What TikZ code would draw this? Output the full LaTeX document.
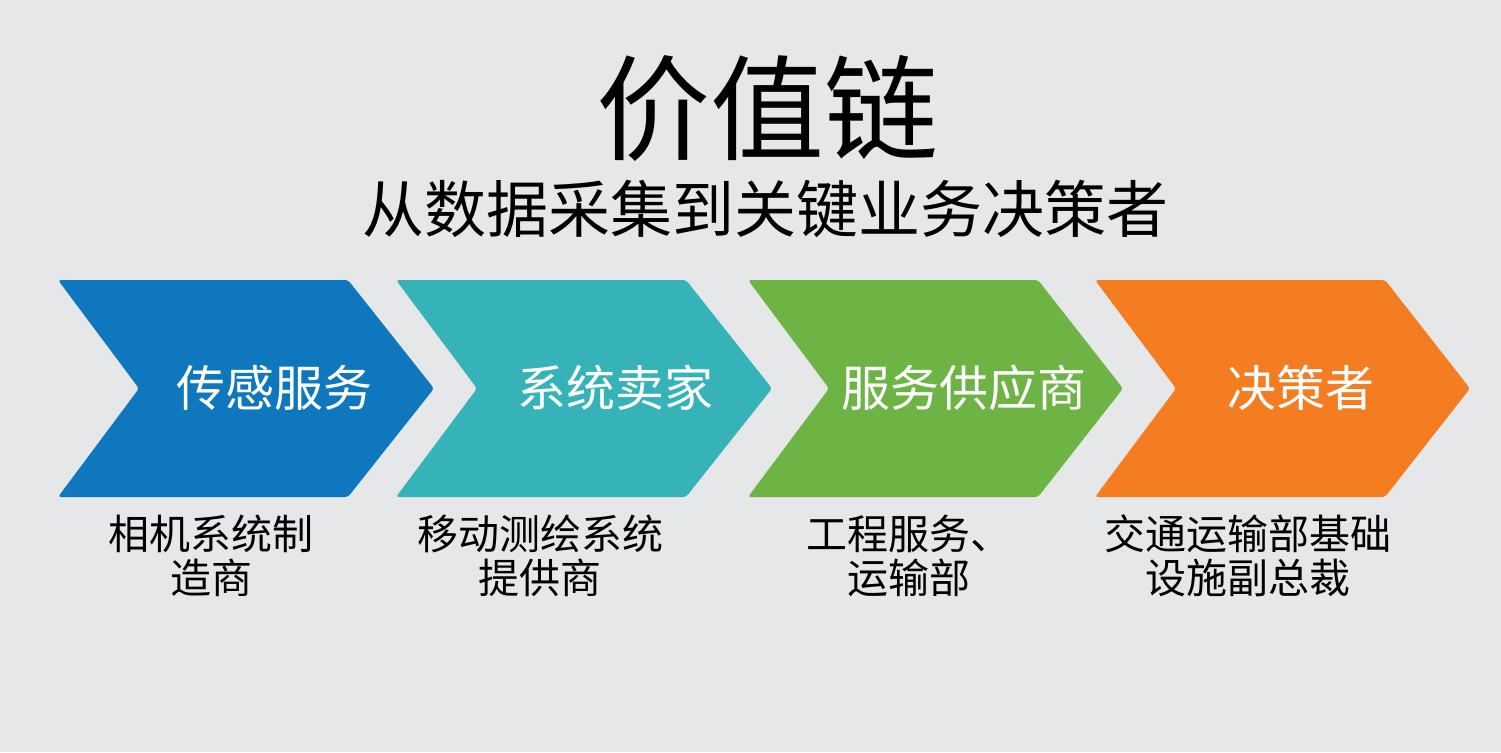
\documentclass[tikz,border=0pt]{standalone}
\usepackage{fontspec}
\setmainfont{Noto Sans CJK SC}
\usepackage{tikz}
\definecolor{bgc}{HTML}{E6E7E8}
\definecolor{chblue}{HTML}{0E77BD}
\definecolor{chteal}{HTML}{35B3B8}
\definecolor{chgreen}{HTML}{6DB445}
\definecolor{chorange}{HTML}{F47D22}

\begin{document}
\begin{tikzpicture}[x=1pt, y=-1pt,
    chev/.style={rounded corners=3pt},
    chevtext/.style={text=white, font=\fontsize{49}{52}\selectfont, inner sep=0pt},
    sub/.style={align=center, font=\fontsize{41}{44}\selectfont, inner sep=0pt}]

                    \fill[bgc] (0,0) rectangle (1501,752);
                    \useasboundingbox (0,0) rectangle (1501,752);

                    \node[inner sep=0pt, font=\fontsize{114}{114}\selectfont] (title) at (767,108) {价值链};
                    \node[inner sep=0pt, font=\fontsize{62}{62}\selectfont] (subtitle) at (765,209) {从数据采集到关键业务决策者};

                    \fill[chev, chblue] (58,280) -- (348,280) -- (434,388.5) -- (348,497) -- (58,497) -- (139,388.5) -- cycle;
                    \fill[chev, chteal] (396,280) -- (686,280) -- (772,388.5) -- (686,497) -- (396,497) -- (477,388.5) -- cycle;
                    \fill[chev, chgreen] (748,280) -- (1038,280) -- (1123,388.5) -- (1038,497) -- (748,497) -- (829,388.5) -- cycle;
                    \fill[chev, chorange] (1095,280) -- (1385,280) -- (1470,388.5) -- (1385,497) -- (1095,497) -- (1176,388.5) -- cycle;

                    \node[chevtext] (s1) at (274,388) {传感服务};
                    \node[chevtext] (s2) at (615,388) {系统卖家};
                    \node[chevtext] (s3) at (964,388) {服务供应商};
                    \node[chevtext] (s4) at (1301,388) {决策者};

                    \node[sub] (t1) at (211,556) {相机系统制\\造商};
                    \node[sub] (t2) at (540,556) {移动测绘系统\\提供商};
                    \node[sub] (t3) at (909,556) {工程服务、\\运输部};
                    \node[sub] (t4) at (1248,556) {交通运输部基础\\设施副总裁};

                \end{tikzpicture}
\end{document}
